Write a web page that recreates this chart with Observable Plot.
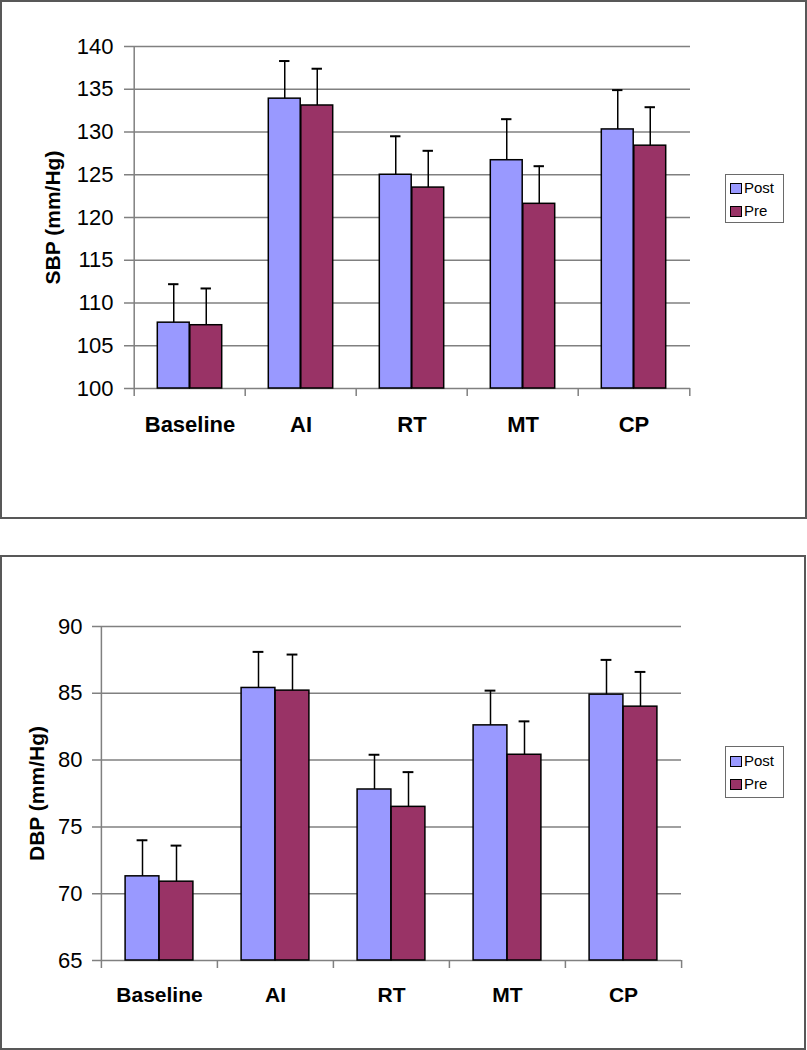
<!DOCTYPE html>
<html>
<head>
<meta charset="utf-8">
<script src="https://cdn.jsdelivr.net/npm/d3@7"></script>
<script src="https://cdn.jsdelivr.net/npm/@observablehq/plot@0.6"></script>
<style>
  html, body { margin: 0; padding: 0; background: #fff; }
  #page { position: relative; width: 807px; height: 1050px; font-family: "Liberation Sans", Arial, sans-serif; }
  .panel { position: absolute; border: 2px solid #585858; box-sizing: border-box; }
  .plotwrap { position: absolute; left: 0; }
  .legend { position: absolute; border: 1px solid #6a6a6a; background: #fff; box-sizing: border-box; font-size: 15px; color: #000; }
  .legend .item { position: absolute; left: 4px; height: 20px; line-height: 20px; white-space: nowrap; }
  .legend .sw { display: inline-block; width: 10px; height: 9px; border: 1.5px solid #000; vertical-align: middle; margin-right: 2px; position: relative; top: -1px; }
</style>
</head>
<body>
<div id="page"></div>
<script>
// ---- data ----
const categories = ["Baseline", "AI", "RT", "MT", "CP"];
const seriesNames = ["Post", "Pre"];
const seriesColors = ["#9999FF", "#993366"];

const sbpPost = [107.7, 133.9, 125.0, 126.7, 130.3];
const sbpPre  = [107.4, 133.1, 123.5, 121.6, 128.4];
const sbpPostErr = [4.5, 4.4, 4.5, 4.8, 4.6];
const sbpPreErr  = [4.3, 4.3, 4.3, 4.4, 4.5];
const sbpTicks = [100, 105, 110, 115, 120, 125, 130, 135, 140];

const dbpPost = [71.3, 85.4, 77.8, 82.6, 84.9];
const dbpPre  = [70.9, 85.2, 76.5, 80.4, 84.0];
const dbpPostErr = [2.7, 2.7, 2.6, 2.6, 2.6];
const dbpPreErr  = [2.7, 2.7, 2.6, 2.5, 2.6];
const dbpTicks = [65, 70, 75, 80, 85, 90];

const page = document.getElementById("page");

function makePanel(cfg) {
  const {top, height, panelH, panelW, label, values, errs, ticks,
         mL, mR, mT, mB, gap, bw, tickPad, xPad, labelX, labelFs, xFs, legendTop, legendItems} = cfg;
  const width = 807;
  const band = (width - mL - mR) / categories.length;
  const ymin = ticks[0], ymax = ticks[ticks.length - 1];

  const panel = document.createElement("div");
  panel.className = "panel";
  panel.style.left = "0px"; panel.style.top = top + "px";
  panel.style.width = panelW + "px"; panel.style.height = panelH + "px";
  page.appendChild(panel);

  const rowsBySeries = seriesNames.map((s, j) => categories.map((c, i) => ({
    cat: c, series: s, value: values[j][i], err: errs[j][i]
  })));

  const insets = [
    {l: gap, r: band - gap - bw, off: gap + bw / 2 - band / 2},
    {l: gap + bw, r: gap, off: band / 2 - gap - bw / 2}
  ];
  const capHalf = 5.5;

  const marks = [
    Plot.ruleY(ticks, {y: d => d, stroke: "#808080", strokeWidth: 1.5, insetLeft: -8}),
    Plot.ruleX(categories.slice(0, 1), {x: d => d, dx: -band / 2, y1: ymin, y2: ymax, stroke: "#808080", strokeWidth: 1.5}),
    Plot.ruleX(categories, {x: d => d, dx: -band / 2, y1: ymin, y2: ymin, insetBottom: -8, stroke: "#808080", strokeWidth: 1.5}),
    Plot.ruleX(categories.slice(-1), {x: d => d, dx: band / 2, y1: ymin, y2: ymin, insetBottom: -8, stroke: "#808080", strokeWidth: 1.5})
  ];
  rowsBySeries.forEach((rows, j) => {
    marks.push(Plot.barY(rows, {x: "cat", y1: ymin, y2: "value", fill: seriesColors[j], stroke: "#000", strokeWidth: 1.5,
      insetLeft: insets[j].l, insetRight: insets[j].r}));
  });
  rowsBySeries.forEach((rows, j) => {
    marks.push(Plot.ruleX(rows, {x: "cat", y1: "value", y2: d => d.value + d.err, dx: insets[j].off, stroke: "#000", strokeWidth: 1.5}));
    marks.push(Plot.tickY(rows, {x: "cat", y: d => d.value + d.err, dx: insets[j].off,
      insetLeft: band / 2 - capHalf, insetRight: band / 2 - capHalf, stroke: "#000", strokeWidth: 2}));
  });
  marks.push(Plot.axisY({ticks: ticks, tickSize: 0, tickPadding: tickPad, fontSize: 22, label: null}));
  marks.push(Plot.axisX({tickSize: 0, tickPadding: xPad, fontSize: xFs, fontWeight: "bold", label: null}));
  marks.push(Plot.text([label], {text: d => d, frameAnchor: "left", dx: labelX - mL, rotate: -90,
    fontSize: labelFs, fontWeight: "bold", textAnchor: "middle", lineAnchor: "middle", fill: "#000"}));

  const chart = Plot.plot({
    width: width, height: height,
    marginLeft: mL, marginRight: mR, marginTop: mT, marginBottom: mB,
    x: {type: "band", domain: categories, padding: 0, axis: null},
    y: {domain: [ymin, ymax], axis: null},
    style: {fontFamily: "'Liberation Sans', Arial, sans-serif", background: "transparent", color: "#000", overflow: "visible"},
    marks: marks
  });
  const wrap = document.createElement("div");
  wrap.className = "plotwrap";
  wrap.style.top = top + "px";
  wrap.appendChild(chart);
  page.appendChild(wrap);

  const lg = document.createElement("div");
  lg.className = "legend";
  lg.style.left = "725px"; lg.style.top = legendTop + "px";
  lg.style.width = "59px"; lg.style.height = legendItems.h + "px";
  seriesNames.forEach((s, j) => {
    const it = document.createElement("div");
    it.className = "item";
    it.style.top = legendItems.tops[j] + "px";
    it.innerHTML = `<span class="sw" style="background:${seriesColors[j]}"></span>${s}`;
    lg.appendChild(it);
  });
  page.appendChild(lg);
}

makePanel({
  top: 0, height: 518, panelW: 807, panelH: 519, label: "SBP (mm/Hg)",
  values: [sbpPost, sbpPre], errs: [sbpPostErr, sbpPreErr], ticks: sbpTicks,
  mL: 132, mR: 117, mT: 46, mB: 130, gap: 23.3, bw: 32.5, tickPad: 19, xPad: 28,
  labelX: 53, labelFs: 21, xFs: 22, legendTop: 174, legendItems: {h: 49, tops: [3, 26]}
});

makePanel({
  top: 555, height: 493, panelW: 806, panelH: 495, label: "DBP (mm/Hg)",
  values: [dbpPost, dbpPre], errs: [dbpPostErr, dbpPreErr], ticks: dbpTicks,
  mL: 100, mR: 126, mT: 71, mB: 88, gap: 24.1, bw: 34, tickPad: 18, xPad: 27,
  labelX: 37, labelFs: 21, xFs: 21, legendTop: 746, legendItems: {h: 52, tops: [4, 27]}
});
</script>
</body>
</html>
